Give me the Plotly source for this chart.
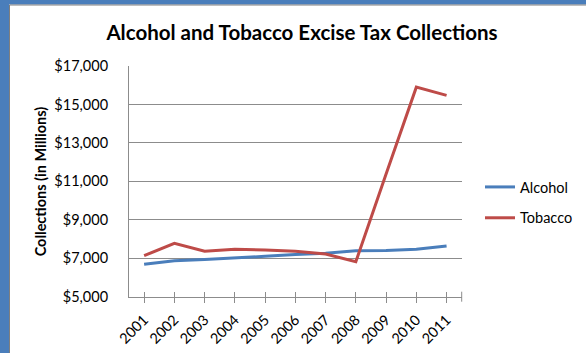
import plotly.graph_objects as go

# Excise tax collections, millions of dollars
years = ["2001", "2002", "2003", "2004", "2005", "2006",
         "2007", "2008", "2009", "2010", "2011"]
alcohol = [6685, 6870, 6930, 7000, 7100, 7200, 7257, 7390, 7400, 7465, 7637]
tobacco = [7133, 7778, 7361, 7465, 7430, 7360, 7221, 6820, 11380, 15900, 15470]

y_ticks = [5000, 7000, 9000, 11000, 13000, 15000, 17000]
y_tick_text = ["$5,000", "$7,000", "$9,000", "$11,000", "$13,000", "$15,000", "$17,000"]

BLUE = "#4a7ebb"
RED = "#be4b48"
GRID = "#8c8c8c"
FONT = "Lato"

W, H = 586, 353
# plot area edges in pixels
PL, PR, PT, PB = 129, 461.7, 66, 296.7


def px_x(p):
    return p / W


def px_y(p):
    return 1 - p / H


fig = go.Figure()
fig.add_trace(go.Scatter(x=years, y=alcohol, name="Alcohol", mode="lines",
                         line=dict(color=BLUE, width=3), legendgroup="a"))
fig.add_trace(go.Scatter(x=years, y=tobacco, name="Tobacco", mode="lines",
                         line=dict(color=RED, width=3), legendgroup="t"))

fig.update_layout(
    width=W, height=H,
    margin=dict(l=0, r=0, t=0, b=0, autoexpand=False),
    paper_bgcolor="white", plot_bgcolor="white",
    font=dict(family=FONT, color="black"),
    title=dict(text="<b>Alcohol and Tobacco Excise Tax Collections</b>",
               x=302 / W, xanchor="center", xref="container",
               y=1 - 33 / H, yanchor="middle", yref="container",
               font=dict(size=20.5, family=FONT, color="black")),
    showlegend=True,
    legend=dict(x=px_x(480), xanchor="left", y=px_y(171), yanchor="top",
                font=dict(size=14.5, family=FONT), tracegroupgap=9,
                traceorder="grouped", itemwidth=30, bgcolor="rgba(0,0,0,0)"),
    xaxis=dict(type="category", range=[-0.5, 10.5], showgrid=False,
               domain=[px_x(PL), px_x(PR)],
               showline=True, linecolor=GRID, linewidth=1, automargin=False,
               ticks="outside", ticklen=5, tickcolor=GRID,
               tickangle=-45, ticklabelstandoff=3,
               tickfont=dict(size=14.5, family=FONT)),
    xaxis2=dict(type="category", range=[-0.5, 10.5], overlaying="x",
                matches="x", showgrid=False, showticklabels=False,
                automargin=False,
                ticks="inside", ticklen=5, tickcolor=GRID, anchor="y"),
    yaxis=dict(range=[5000, 17000], tickvals=y_ticks, ticktext=y_tick_text,
               domain=[px_y(PB), px_y(PT)],
               showgrid=True, gridcolor=GRID, gridwidth=1, automargin=False,
               showline=True, linecolor=GRID, linewidth=1,
               zeroline=False, ticks="", ticklabelstandoff=17,
               tickfont=dict(size=14.5, family=FONT)),
)

# invisible trace to draw the inside tick marks on the overlay axis
fig.add_trace(go.Scatter(x=years, y=[None] * len(years), xaxis="x2",
                         showlegend=False, hoverinfo="skip"))

fig.add_annotation(text="<b>Collections (in Millions)</b>", textangle=-90,
                   xref="paper", yref="paper", x=px_x(40),
                   y=px_y((PT + PB) / 2),
                   xanchor="center", yanchor="middle", showarrow=False,
                   font=dict(size=14.5, family=FONT))

# closing tick at the right end of the category axis
fig.add_shape(type="line", xref="paper", yref="paper",
              x0=px_x(PR), x1=px_x(PR), y0=px_y(PB + 5), y1=px_y(PB - 5),
              line=dict(color=GRID, width=1))

# slide frame: blue bands on the left and top with a thin grey edge
fig.add_shape(type="rect", xref="paper", yref="paper",
              x0=0, x1=px_x(9), y0=0, y1=1,
              fillcolor=BLUE, line=dict(width=0), layer="above")
fig.add_shape(type="rect", xref="paper", yref="paper",
              x0=0, x1=1, y0=px_y(4.5), y1=1,
              fillcolor=BLUE, line=dict(width=0), layer="above")
fig.add_shape(type="line", xref="paper", yref="paper",
              x0=px_x(9.5), x1=1, y0=px_y(5), y1=px_y(5),
              line=dict(color="#7f7f7f", width=1))
fig.add_shape(type="line", xref="paper", yref="paper",
              x0=px_x(9.5), x1=px_x(9.5), y0=px_y(5), y1=0,
              line=dict(color="#7f7f7f", width=1))

fig.write_html("out.html")
